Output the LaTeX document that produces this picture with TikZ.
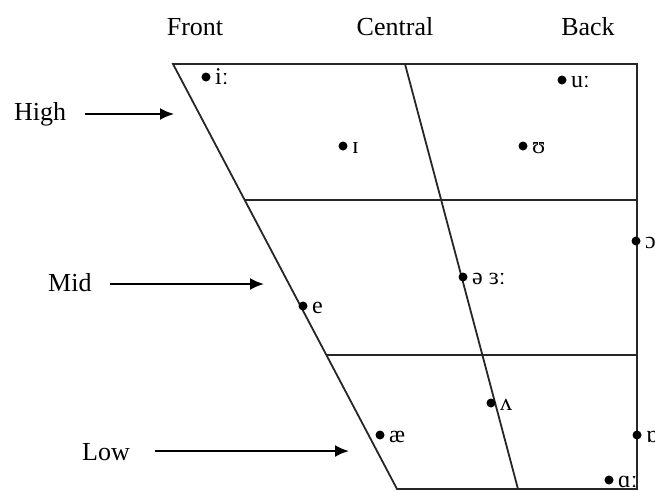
\documentclass[tikz,border=0pt]{standalone}
\usepackage{fontspec}
\setmainfont{Liberation Serif}
\usetikzlibrary{arrows.meta,calc}
\tikzset{
  frame/.style={draw=black!85, line width=1.8pt},
  dotnode/.style={circle, fill=black, inner sep=0pt, minimum size=9pt},
  vlab/.style={anchor=base west, inner sep=0pt, font=\fontsize{24}{24}\selectfont},
  head/.style={anchor=base, inner sep=0pt, font=\fontsize{26}{26}\selectfont},
  side/.style={anchor=base west, inner sep=0pt, font=\fontsize{26}{26}\selectfont},
  pointer/.style={draw=black, line width=2pt, -{Latex[length=14pt,width=12pt]}}
}
\begin{document}
\begin{tikzpicture}[x=1pt,y=-1pt]
\useasboundingbox (0,0) rectangle (655,491);
% frame corners
\coordinate (TL) at (173,64);
\coordinate (TR) at (637,64);
\coordinate (BR) at (637,489);
\coordinate (BL) at (397,489);
\coordinate (CT) at (405,64);
\coordinate (CB) at (518,489);
\coordinate (H1L) at ($(TL)!136/425!(BL)$);
\coordinate (H1R) at (637,200);
\coordinate (H2L) at ($(TL)!291/425!(BL)$);
\coordinate (H2R) at (637,355);
\draw[frame] (TL) -- (TR) -- (BR) -- (BL) -- cycle;
\draw[frame] (CT) -- (CB);
\draw[frame] (H1L) -- (H1R);
\draw[frame] (H2L) -- (H2R);
% column heads
\node[head] (front) at (195,35) {Front};
\node[head] (central) at (395,35) {Central};
\node[head] (back) at (588,35) {Back};
% row labels and arrows
\node[side] (high) at (14,120) {High};
\node[side] (mid) at (48,291) {Mid};
\node[side] (low) at (82,460) {Low};
\coordinate (highstart) at (85,114);
\coordinate (midstart) at (110,284);
\coordinate (lowstart) at (155,451);
\coordinate (highend) at (174,114);
\coordinate (midend) at (264,284);
\coordinate (lowend) at (349,451);
\draw[pointer] (highstart) -- (highend);
\draw[pointer] (midstart) -- (midend);
\draw[pointer] (lowstart) -- (lowend);
% vowels
\node[dotnode] (di) at (206,77) {};
\node[vlab] (li) at ($(di)+(9,7)$) {iː};
\node[dotnode] (du) at (562,80) {};
\node[vlab] (lu) at ($(du)+(9,7)$) {uː};
\node[dotnode] (dI) at (343,146) {};
\node[vlab] (lI) at ($(dI)+(9,7)$) {ɪ};
\node[dotnode] (dU) at (523,146) {};
\node[vlab] (lU) at ($(dU)+(9,7)$) {ʊ};
\node[dotnode] (do) at (636,241) {};
\node[vlab] (lo) at ($(do)+(9,7)$) {ɔ};
\node[dotnode] (dschwa) at (463,277) {};
\node[vlab] (lschwa) at ($(dschwa)+(9,7)$) {ə ɜː};
\node[dotnode] (de) at (303,306) {};
\node[vlab] (le) at ($(de)+(9,7)$) {e};
\node[dotnode] (dV) at (491,403) {};
\node[vlab] (lV) at ($(dV)+(9,7)$) {ʌ};
\node[dotnode] (dae) at (380,435) {};
\node[vlab] (lae) at ($(dae)+(9,7)$) {æ};
\node[dotnode] (dQ) at (637,435) {};
\node[vlab] (lQ) at ($(dQ)+(9,7)$) {ɒ};
\node[dotnode] (dA) at (609,480) {};
\node[vlab] (lA) at ($(dA)+(9,7)$) {ɑː};
\end{tikzpicture}
\end{document}
